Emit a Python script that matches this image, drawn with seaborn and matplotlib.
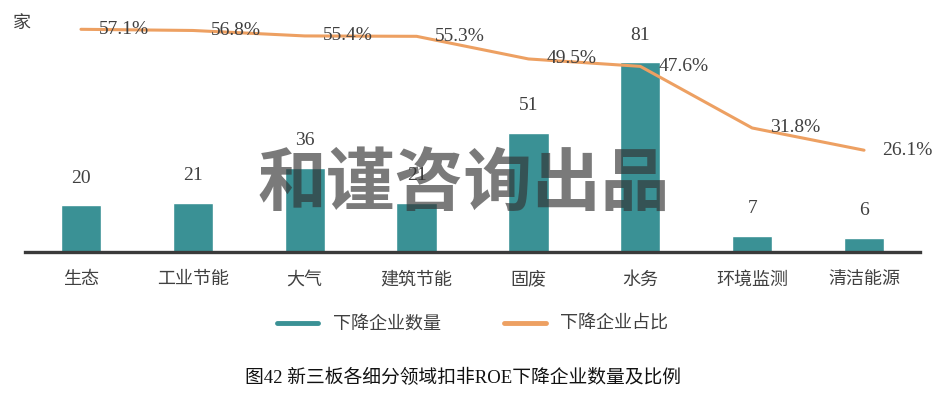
import numpy as np
import matplotlib
matplotlib.use("Agg")
import matplotlib.pyplot as plt
from matplotlib.lines import Line2D
import seaborn as sns

sns.set_style("white")
plt.rcParams["font.family"] = ["Liberation Serif", "Noto Sans CJK SC", "DejaVu Sans"]

# data
categories = ["生态", "工业节能", "大气", "建筑节能", "固废", "水务", "环境监测", "清洁能源"]
counts = [20, 21, 36, 21, 51, 81, 7, 6]
shares = [0.571, 0.568, 0.554, 0.553, 0.495, 0.476, 0.318, 0.261]
share_labels = ["57.1%", "56.8%", "55.4%", "55.3%", "49.5%", "47.6%", "31.8%", "26.1%"]

teal = "#3a9195"
orange = "#eda062"
txt = "#404040"

fig = plt.figure(figsize=(9.45, 3.98), dpi=100)
ax = fig.add_axes([0.0265, 0.3668, 0.947, 0.588])

sns.barplot(x=categories, y=counts, color=teal, width=0.36, saturation=1, ax=ax)
ax.set_xlim(-0.5, 7.5)
ax.set_ylim(0, 100)

# count labels above bars
for i, v in enumerate(counts):
    ax.annotate(str(v), (i, v), xytext=(0, 19.5), textcoords="offset points",
                ha="center", va="center", fontsize=14, color=txt)

ax2 = ax.twinx()
x = np.arange(len(categories))
sns.lineplot(x=x, y=shares, color=orange, linewidth=2.2, sort=False, ax=ax2)
ax2.set_ylim(0, 0.6)
for i, (v, lab) in enumerate(zip(shares, share_labels)):
    ax2.annotate(lab, (i, v), xytext=(13, 0), textcoords="offset points",
                 ha="left", va="center", fontsize=14, color=txt)

for a in (ax, ax2):
    for s in a.spines.values():
        s.set_visible(False)
    a.set_yticks([])
    a.set_ylabel("")
ax.spines["bottom"].set_visible(True)
ax.spines["bottom"].set_color("#3a3a3a")
ax.spines["bottom"].set_linewidth(2.4)
ax.tick_params(axis="x", length=0, pad=14, labelsize=13, labelcolor=txt)

fig.text(0.023, 0.94, "家", fontsize=13, color=txt, ha="center", va="center")

handles = [Line2D([], [], color=teal, linewidth=3.5),
           Line2D([], [], color=orange, linewidth=3.5)]
fig.legend(handles, ["下降企业数量", "下降企业占比"], loc="center", ncol=2,
           bbox_to_anchor=(0.5, 0.185), frameon=False, fontsize=13,
           labelcolor=txt, handlelength=2.3, columnspacing=3.5)

fig.text(0.49, 0.05, "图42 新三板各细分领域扣非ROE下降企业数量及比例",
         fontsize=13.5, color="#111111", ha="center", va="center")

# watermark
fig.text(0.491, 0.535, "和谨咨询出品", fontsize=49.5, fontweight="bold",
         family=["Noto Sans CJK SC"], color="#333333", alpha=0.65,
         ha="center", va="center")

fig.savefig("out.png", dpi=100)
